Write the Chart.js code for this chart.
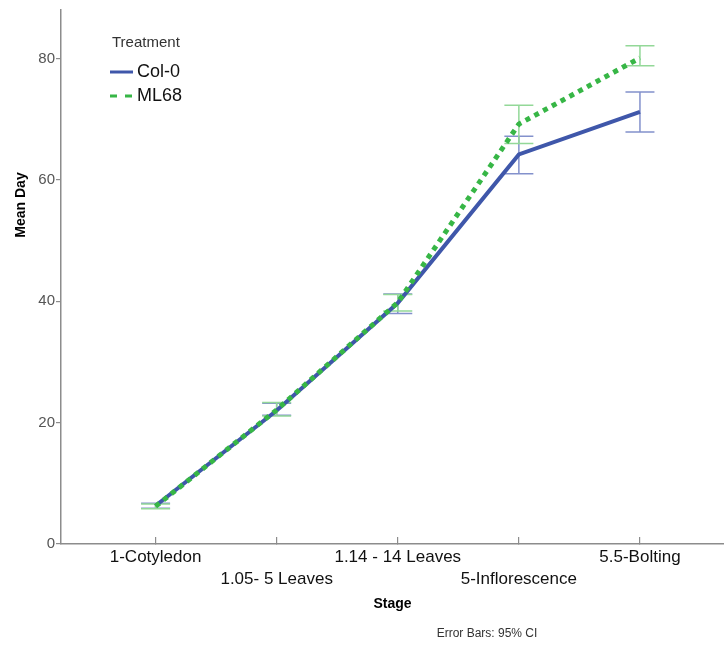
<!DOCTYPE html>
<html>
<head>
<meta charset="utf-8">
<script src="https://cdn.jsdelivr.net/npm/chart.js@4.4.0/dist/chart.umd.min.js"></script>
<style>
  html, body { margin: 0; padding: 0; background: #fff; }
  #wrap { width: 724px; height: 646px; }
</style>
</head>
<body>
<div id="wrap"><canvas id="chart" width="724" height="646"></canvas></div>
<script>
  // ── Data ──
  var stages = ['1-Cotyledon', '1.05- 5 Leaves', '1.14 - 14 Leaves', '5-Inflorescence', '5.5-Bolting'];
  var stageIdx = [0, 1, 2, 3, 4];

  var colMean = [6.3, 22.0, 39.7, 64.2, 71.2];
  var colLow  = [5.9, 21.2, 38.0, 61.0, 67.9];
  var colHigh = [6.7, 23.2, 41.2, 67.2, 74.5];

  var mlMean = [6.2, 22.1, 39.8, 69.2, 80.1];
  var mlLow  = [5.8, 21.1, 38.4, 66.0, 78.8];
  var mlHigh = [6.6, 23.3, 41.1, 72.3, 82.1];

  var yTicks = [0, 20, 40, 60, 80];

  var FONT = "'Liberation Sans', Arial, sans-serif";
  var axisGray = '#8c8c8c';

  function points(vals) {
    return stageIdx.map(function (x, i) { return { x: x, y: vals[i] }; });
  }

  // ── Error bars (95% CI), drawn under the lines ──
  var errorBars = {
    id: 'errorBars',
    beforeDatasetsDraw: function (chart) {
      var ctx = chart.ctx, xs = chart.scales.x, ys = chart.scales.y;
      chart.data.datasets.forEach(function (ds) {
        ctx.save();
        ctx.strokeStyle = ds.errorColor;
        ctx.lineWidth = 1.5;
        ds.low.forEach(function (lo, i) {
          var px = xs.getPixelForValue(stageIdx[i]);
          var y1 = ys.getPixelForValue(lo);
          var y2 = ys.getPixelForValue(ds.high[i]);
          ctx.beginPath();
          ctx.moveTo(px, y1); ctx.lineTo(px, y2);
          ctx.moveTo(px - 14.5, y1); ctx.lineTo(px + 14.5, y1);
          ctx.moveTo(px - 14.5, y2); ctx.lineTo(px + 14.5, y2);
          ctx.stroke();
        });
        ctx.restore();
      });
    }
  };

  // ── Legend, y title and footnote ──
  var annotations = {
    id: 'annotations',
    afterDraw: function (chart) {
      var ctx = chart.ctx;
      ctx.save();
      ctx.textBaseline = 'middle';

      ctx.fillStyle = '#333';
      ctx.font = '15px ' + FONT;
      ctx.textAlign = 'left';
      ctx.fillText('Treatment', 112, 43);

      chart.data.datasets.forEach(function (ds, i) {
        var y = 72 + i * 24;
        ctx.strokeStyle = ds.borderColor;
        ctx.lineWidth = 3;
        ctx.setLineDash(ds.legendDash || []);
        ctx.beginPath();
        ctx.moveTo(110, y); ctx.lineTo(133, y);
        ctx.stroke();
        ctx.setLineDash([]);
        ctx.fillStyle = '#111';
        ctx.font = '18px ' + FONT;
        ctx.fillText(ds.label, 137, y);
      });

      ctx.save();
      ctx.translate(21, 205);
      ctx.rotate(-Math.PI / 2);
      ctx.textAlign = 'center';
      ctx.fillStyle = '#000';
      ctx.font = 'bold 14px ' + FONT;
      ctx.fillText('Mean Day', 0, 0);
      ctx.restore();

      ctx.textAlign = 'center';
      ctx.fillStyle = '#333';
      ctx.font = '12px ' + FONT;
      ctx.fillText('Error Bars: 95% CI', 487, 634);
      ctx.restore();
    }
  };

  new Chart(document.getElementById('chart').getContext('2d'), {
    type: 'line',
    data: {
      datasets: [
        {
          label: 'Col-0',
          data: points(colMean),
          low: colLow, high: colHigh,
          borderColor: '#3f57aa',
          errorColor: '#8391cc',
          borderWidth: 4,
          pointRadius: 0,
          tension: 0,
          order: 1
        },
        {
          label: 'ML68',
          data: points(mlMean),
          low: mlLow, high: mlHigh,
          borderColor: '#37b646',
          errorColor: '#93d898',
          borderWidth: 5,
          borderDash: [5, 5],
          legendDash: [7, 8],
          pointRadius: 0,
          tension: 0,
          order: 0
        }
      ]
    },
    options: {
      responsive: false,
      animation: false,
      devicePixelRatio: 1,
      layout: { padding: { top: 10, left: 0, right: 0, bottom: 0 } },
      plugins: { legend: { display: false }, tooltip: { enabled: false } },
      scales: {
        x: {
          type: 'linear',
          min: -0.781,
          max: 4.694,
          afterFit: function (s) {
            s.height = 102;
            s.paddingLeft = 0; s.paddingRight = 0;
          },
          afterBuildTicks: function (s) {
            s.ticks = stageIdx.map(function (v) { return { value: v }; });
          },
          border: { color: axisGray, width: 1.5 },
          grid: { drawOnChartArea: false, drawTicks: true, tickLength: -7, color: axisGray, lineWidth: 1.2 },
          ticks: {
            color: '#111',
            padding: 10,
            maxRotation: 0,
            autoSkip: false,
            font: { family: FONT, size: 17, lineHeight: 1.25 },
            callback: function (v) {
              var label = stages[v];
              return v % 2 === 1 ? ['', label] : [label];
            }
          },
          title: {
            display: true,
            text: 'Stage',
            color: '#000',
            font: { family: FONT, size: 14, weight: 'bold' },
            padding: { top: 0, bottom: 33 }
          }
        },
        y: {
          min: 0,
          max: 88,
          afterFit: function (s) {
            s.width = 61;
            s.paddingTop = 0; s.paddingBottom = 0;
          },
          afterBuildTicks: function (s) {
            s.ticks = yTicks.map(function (v) { return { value: v }; });
          },
          border: { color: axisGray, width: 1.5 },
          grid: { drawOnChartArea: false, drawTicks: true, tickLength: 5, color: axisGray, lineWidth: 1.2 },
          ticks: {
            color: '#555',
            padding: 1,
            font: { family: FONT, size: 15 }
          }
        }
      }
    },
    plugins: [errorBars, annotations]
  });
</script>
</body>
</html>
